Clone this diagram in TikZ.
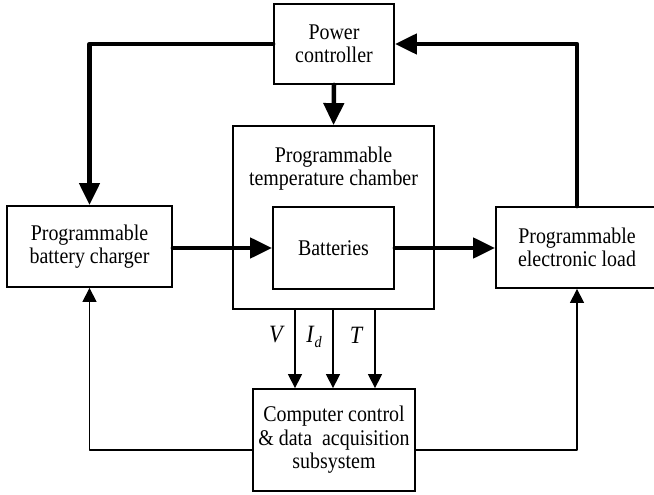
\documentclass[tikz,border=0pt]{standalone}
\usepackage{fontspec}
\setmainfont{Liberation Serif}[FakeStretch=0.89]
\usetikzlibrary{arrows.meta}
\tikzset{
  box/.style={draw, line width=1.8bp, inner sep=0pt, align=center,
    font=\fontsize{22.5}{23.5}\selectfont},
  lbl/.style={inner sep=0pt, align=center, font=\fontsize{22.5}{23.5}\selectfont},
  sym/.style={inner sep=0pt, font=\fontsize{25}{26}\selectfont\itshape},
  bigarrow/.style={line width=4.5bp, line cap=round, line join=round,
    -{Triangle[length=22bp,width=20bp]}},
  sigarrow/.style={line width=1.5bp, -{Triangle[length=14bp,width=14bp]}},
  thinarrow/.style={line width=1.2bp, line join=round, -{Triangle[length=14bp,width=14bp]}}
}
\begin{document}
\begin{tikzpicture}[x=1bp,y=-1bp]
\useasboundingbox (0,0) rectangle (654,495);
\node[box, minimum width=120bp, minimum height=80bp] (pc) at (334,44) {Power\\controller};
\node[box, minimum width=201bp, minimum height=183bp] (ch) at (333.5,217.5) {};
\node[lbl] (cht) at (333.5,168.5) {Programmable\\temperature chamber};
\node[box, minimum width=121bp, minimum height=82bp] (bat) at (333.5,248) {Batteries};
\node[box, minimum width=165bp, minimum height=81bp] (chg) at (89.5,246.5) {Programmable\\battery charger};
\node[box, minimum width=162bp, minimum height=81bp] (load) at (577,247.5) {Programmable\\electronic load};
\node[box, minimum width=162bp, minimum height=102bp] (comp) at (334,440) {Computer control\\\&~data~~acquisition\\subsystem};

\draw[bigarrow] (pc.west) -| (chg.north);
\draw[bigarrow] (load.north) |- (pc.east);
\draw[bigarrow] (pc.south) -- (ch.north);
\draw[bigarrow] (chg.east |- bat.west) -- (bat.west);
\draw[bigarrow] (bat.east) -- (load.west |- bat.east);

\draw[sigarrow] ([xshift=-38.5bp]ch.south) -- ([xshift=-38.5bp]ch.south |- comp.north);
\draw[sigarrow] ([xshift=-0.5bp]ch.south) -- ([xshift=-0.5bp]ch.south |- comp.north);
\draw[sigarrow] ([xshift=41.5bp]ch.south) -- ([xshift=41.5bp]ch.south |- comp.north);

\node[sym] (lv) at (276,335) {V};
\node[sym] (li) at (314,337) {I\kern1bp\raisebox{-5bp}{\fontsize{16}{16}\selectfont d}};
\node[sym] (lt) at (356,335) {T};

\draw[thinarrow] ([yshift=-10bp]comp.west) -| (chg.south);
\draw[thinarrow] ([yshift=-10bp]comp.east) -| (load.south);
\end{tikzpicture}
\end{document}
